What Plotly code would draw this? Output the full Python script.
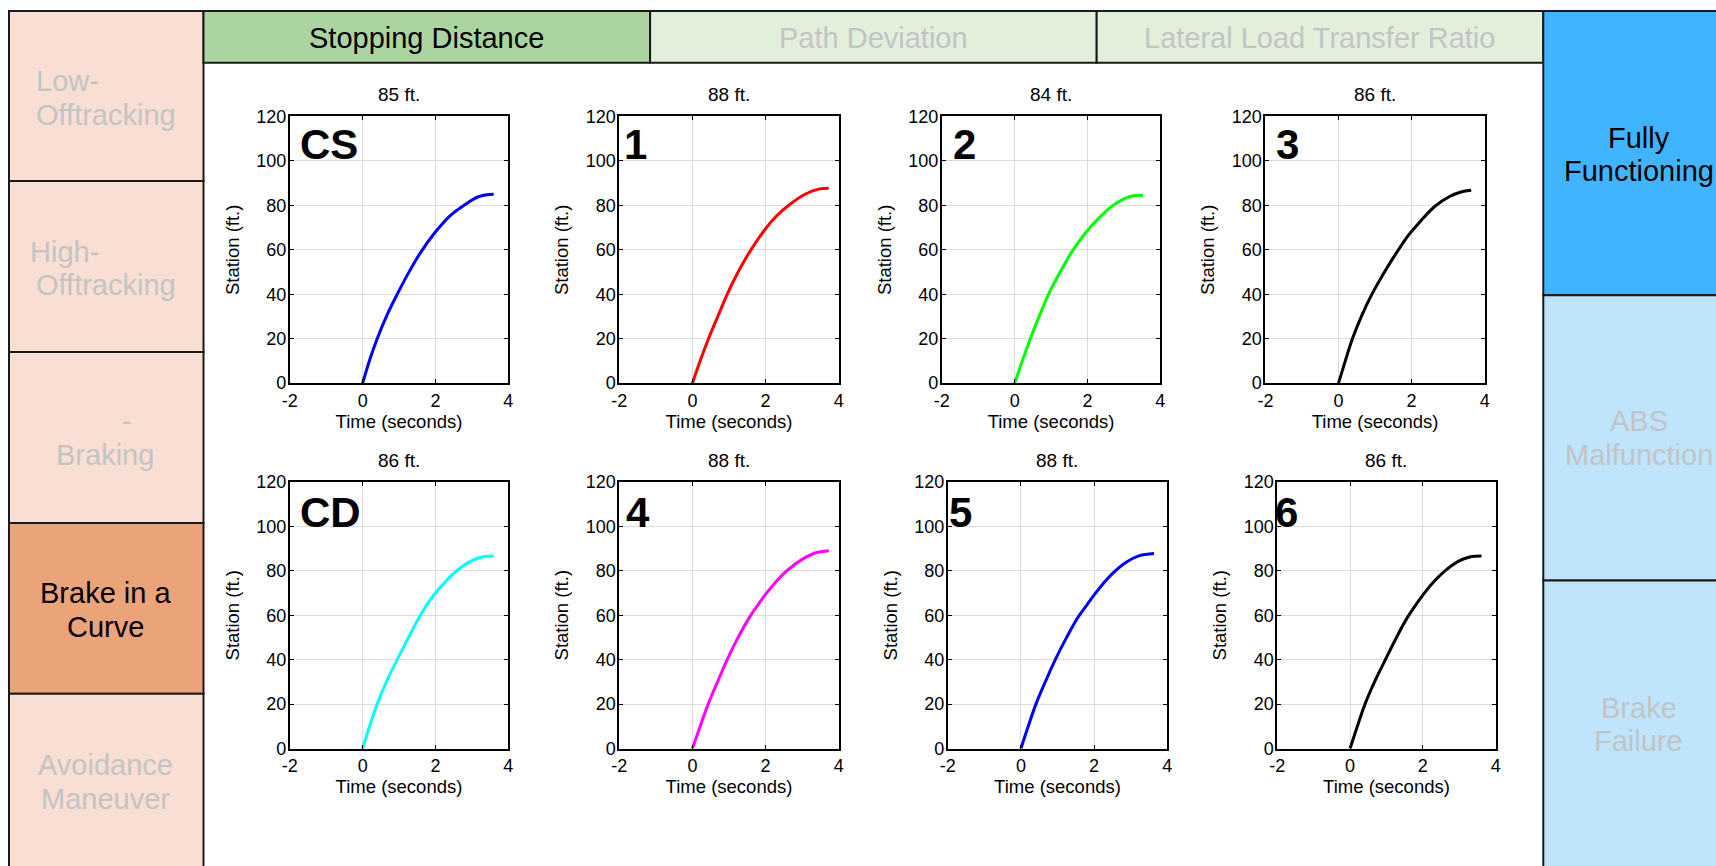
import plotly.graph_objects as go

W, H = 1716, 866

# ---------------- data ----------------
panel_labels = ["CS", "1", "2", "3", "CD", "4", "5", "6"]
panel_titles = ["85 ft.", "88 ft.", "84 ft.", "86 ft.", "86 ft.", "88 ft.", "88 ft.", "86 ft."]
panel_colors = ["#0000FF", "#FF0000", "#00FF00", "#000000",
                "#00FFFF", "#FF00FF", "#0000FF", "#000000"]

time_cs = [0, 0.2, 0.4, 0.7, 0.95, 1.25, 1.6, 2.0, 2.4, 2.78, 3.2, 3.6]
station_cs = [0, 10.8, 20, 31.7, 40, 49.3, 59, 68, 75.3, 80, 84, 85]

time_1 = [0, 0.2, 0.44, 0.7, 0.95, 1.25, 1.6, 2.0, 2.3, 2.67, 3.08, 3.45, 3.73]
station_1 = [0, 9.5, 20, 30.3, 40, 50, 60, 69.5, 75.2, 80.5, 85, 87.3, 87.7]

time_2 = [0, 0.2, 0.43, 0.68, 0.93, 1.25, 1.55, 1.8, 2.03, 2.39, 2.62, 2.99, 3.26, 3.53]
station_2 = [0, 9.5, 20, 30.3, 40, 50, 58.5, 64.5, 69.3, 75.5, 79, 82.8, 84.3, 84.5]

time_3 = [0, 0.18, 0.38, 0.65, 0.93, 1.25, 1.54, 1.91, 2.25, 2.63, 3.04, 3.35, 3.63]
station_3 = [0, 9.7, 20, 31, 40.5, 49.8, 57.5, 66.5, 73, 79.5, 84, 86, 86.8]

time_cd = [0, 0.2, 0.4, 0.68, 0.95, 1.25, 1.52, 1.75, 2.0, 2.3, 2.59, 2.96, 3.28, 3.6]
station_cd = [0, 10.5, 20, 31, 40, 49.6, 58, 64.3, 70, 75.5, 80, 84.2, 86.2, 86.6]

time_4 = [0, 0.2, 0.43, 0.7, 0.95, 1.25, 1.56, 1.8, 2.02, 2.3, 2.57, 2.99, 3.36, 3.73]
station_4 = [0, 9.5, 20, 30.5, 40, 50, 59, 64.8, 69.8, 75.3, 79.8, 85, 88, 89]

time_5 = [0, 0.2, 0.41, 0.68, 0.94, 1.25, 1.54, 1.8, 2.02, 2.46, 2.88, 3.24, 3.64]
station_5 = [0, 10, 20, 30.5, 40, 50, 58.5, 64.5, 69.5, 78, 83.8, 86.8, 87.8]

time_6 = [0, 0.2, 0.41, 0.7, 0.97, 1.25, 1.54, 1.8, 2.02, 2.3, 2.6, 2.97, 3.29, 3.61]
station_6 = [0, 10, 20, 31, 40, 49.2, 58, 64.5, 69.5, 75, 79.8, 84.2, 86.2, 86.6]

times = [time_cs, time_1, time_2, time_3, time_cd, time_4, time_5, time_6]
stations = [station_cs, station_1, station_2, station_3,
            station_cd, station_4, station_5, station_6]

x_ticks = [-2, 0, 2, 4]
y_ticks = [0, 20, 40, 60, 80, 100, 120]
x_title = "Time (seconds)"
y_title = "Station (ft.)"

top_labels = ["Stopping Distance", "Path Deviation", "Lateral Load Transfer Ratio"]
top_selected = [True, False, False]

# ---------------- layout geometry (figure pixels) ----------------
def px(x):
    return x / W

def py(y):
    return 1 - y / H

axes_px = [  # (left, right, top, bottom)
    (284, 504, 109, 382), (616, 837, 109, 382), (941, 1161, 109, 382), (1267, 1488, 109, 382),
    (284, 504, 483, 756), (616, 837, 483, 756), (947, 1168, 483, 756), (1279, 1499, 483, 756),
]
label_xshift = [8, 3, 9, 9, 8, 5, -1, -4]
label_yshift = [-3, -3, -3, -3, -5, -5, -5, -5]

FONT = "Liberation Sans, Arial, Helvetica, sans-serif"
GRAY_TXT = "#C2C4C6"
BORDER = "#1A1A1A"
SIDE_SIZE = 29

fig = go.Figure()
annotations = []
shapes = []

# ----- background panels -----
LEFT_LIGHT = "#F9DFD3"
LEFT_SEL = "#EBA37A"
left_rows = [(1, 175), (175, 350), (350, 525), (525, 700), (700, 885)]
left_sel = [False, False, False, True, False]
for (y0, y1), sel in zip(left_rows, left_sel):
    shapes.append(dict(type="rect", xref="paper", yref="paper",
                       x0=px(1), x1=px(197), y0=py(y1), y1=py(y0),
                       fillcolor=LEFT_SEL if sel else LEFT_LIGHT,
                       line=dict(color=BORDER, width=2), layer="below"))

TOP_SEL = "#ABD4A1"
TOP_LIGHT = "#E2EFDB"
top_cols = [(197, 647), (647, 1097), (1097, 1547)]
for (x0, x1), sel, lab in zip(top_cols, top_selected, top_labels):
    shapes.append(dict(type="rect", xref="paper", yref="paper",
                       x0=px(x0), x1=px(x1), y0=py(54), y1=py(1),
                       fillcolor=TOP_SEL if sel else TOP_LIGHT,
                       line=dict(color=BORDER, width=2), layer="below"))
    annotations.append(dict(text=lab, xref="paper", yref="paper",
                            x=px((x0 + x1) / 2), y=py(28.5), xanchor="center", yanchor="middle",
                            showarrow=False,
                            font=dict(family=FONT, size=SIDE_SIZE,
                                      color="#000000" if sel else GRAY_TXT)))

RIGHT_SEL = "#41B4FF"
RIGHT_LIGHT = "#BFE5FC"
right_rows = [(1, 292), (292, 584), (584, 885)]
right_sel = [True, False, False]
for (y0, y1), sel in zip(right_rows, right_sel):
    shapes.append(dict(type="rect", xref="paper", yref="paper",
                       x0=px(1547), x1=px(1740), y0=py(y1), y1=py(y0),
                       fillcolor=RIGHT_SEL if sel else RIGHT_LIGHT,
                       line=dict(color=BORDER, width=2), layer="below"))

# side texts: (text, x_px, y_px, anchor, selected)
side_texts = [
    ("Low-", 26, 72.5, "left", False),
    ("Offtracking", 26, 107, "left", False),
    ("High-", 20, 247.5, "left", False),
    ("Offtracking", 26, 282, "left", False),
    ("-", 120, 421, "center", False),
    ("Braking", 98, 456, "center", False),
    ("Brake in a", 98, 597, "center", True),
    ("Curve", 98, 631.5, "center", True),
    ("Avoidance", 98, 773, "center", False),
    ("Maneuver", 98, 808, "center", False),
    ("Fully", 1643, 131.5, "center", True),
    ("Functioning", 1643, 165, "center", True),
    ("ABS", 1643, 421, "center", False),
    ("Malfunction", 1643, 455.5, "center", False),
    ("Brake", 1643, 714, "center", False),
    ("Failure", 1643, 748.5, "center", False),
]
for txt, x, y, anc, sel in side_texts:
    annotations.append(dict(text=txt, xref="paper", yref="paper", x=px(x), y=py(y),
                            xanchor=anc, yanchor="middle", showarrow=False,
                            font=dict(family=FONT, size=SIDE_SIZE,
                                      color="#000000" if sel else GRAY_TXT)))

# ----- subplots -----
for i in range(8):
    l, r, t, b = axes_px[i]
    xa = "xaxis" if i == 0 else f"xaxis{i+1}"
    ya = "yaxis" if i == 0 else f"yaxis{i+1}"
    xr = "x" if i == 0 else f"x{i+1}"
    yr = "y" if i == 0 else f"y{i+1}"
    fig.add_trace(go.Scatter(x=times[i], y=stations[i], mode="lines",
                             line=dict(color=panel_colors[i], width=3, shape="spline", smoothing=1.0),
                             xaxis=xr, yaxis=yr, showlegend=False, hoverinfo="skip"))
    common = dict(showline=True, linecolor="#000000", linewidth=2, mirror="ticks",
                  ticks="inside", ticklen=4, tickcolor="#000000", tickwidth=1,
                  showgrid=True, gridcolor="#DCDCDC", gridwidth=1, zeroline=False,
                  tickfont=dict(family=FONT, size=18, color="#000000"),
                  fixedrange=True)
    fig.layout[xa] = dict(domain=[px(l), px(r)], anchor=yr, range=[-2, 4],
                          tickmode="array", tickvals=x_ticks, ticktext=[str(v) for v in x_ticks],
                          title=dict(text=x_title, standoff=3,
                                     font=dict(family=FONT, size=18.5, color="#000000")),
                          ticklabelstandoff=0,
                          **common)
    fig.layout[ya] = dict(domain=[py(b), py(t)], anchor=xr, range=[0, 120],
                          tickmode="array", tickvals=y_ticks, ticktext=[str(v) for v in y_ticks],
                          title=dict(text=y_title, standoff=12,
                                     font=dict(family=FONT, size=18.5, color="#000000")),
                          ticklabelstandoff=-2,
                          **common)
    annotations.append(dict(text=panel_titles[i], xref=f"{xr} domain", yref=f"{yr} domain",
                            x=0.5, y=1, xanchor="center", yanchor="bottom", yshift=9,
                            showarrow=False,
                            font=dict(family=FONT, size=19, color="#000000")))
    annotations.append(dict(text=f"<b>{panel_labels[i]}</b>", xref=f"{xr} domain",
                            yref=f"{yr} domain", x=0, y=1, xanchor="left", yanchor="top",
                            xshift=label_xshift[i], yshift=label_yshift[i], showarrow=False,
                            font=dict(family=FONT, size=42, color="#000000")))

fig.update_layout(width=W, height=H, margin=dict(l=0, r=0, t=0, b=0),
                  paper_bgcolor="#FFFFFF", plot_bgcolor="#FFFFFF",
                  annotations=annotations, shapes=shapes, showlegend=False)

post = ("document.documentElement.style.margin='0';"
        "document.documentElement.style.padding='0';"
        "document.documentElement.style.overflow='hidden';"
        "document.body.style.margin='0';"
        "document.body.style.padding='0';"
        "document.body.style.overflow='hidden';")

fig.write_html("out.html", config={"displayModeBar": False}, post_script=post)
